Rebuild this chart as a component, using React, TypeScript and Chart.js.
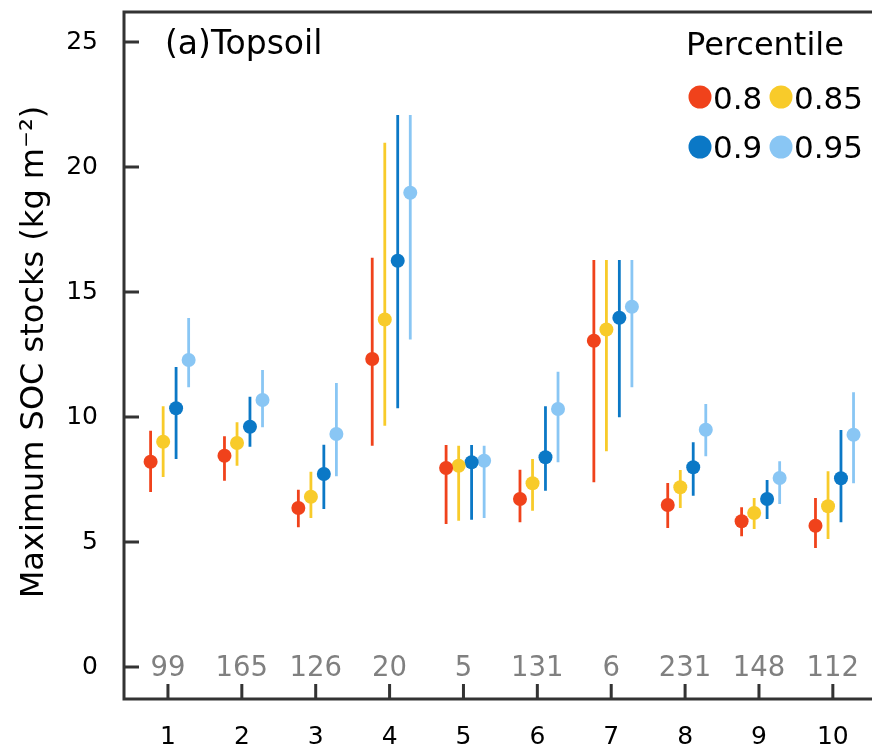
import React, { useEffect, useRef } from "react";
import { Chart, registerables } from "chart.js";

Chart.register(...registerables);

const categories = [1, 2, 3, 4, 5, 6, 7, 8, 9, 10];
const counts = [99, 165, 126, 20, 5, 131, 6, 231, 148, 112];
const seriesLabels = ["0.8", "0.85", "0.9", "0.95"];
const yTickValues = [0, 5, 10, 15, 20, 25];

const mean080 = [8.21, 8.45, 6.36, 12.32, 7.96, 6.72, 13.05, 6.48, 5.83, 5.65];
const low080 = [7.0, 7.45, 5.59, 8.85, 5.72, 5.79, 7.39, 5.56, 5.23, 4.76];
const high080 = [9.45, 9.23, 7.09, 16.37, 8.88, 7.89, 16.28, 7.36, 6.39, 6.76];

const mean085 = [9.01, 8.96, 6.81, 13.9, 8.05, 7.35, 13.5, 7.19, 6.16, 6.43];
const low085 = [7.6, 8.05, 5.96, 9.65, 5.85, 6.25, 8.63, 6.36, 5.52, 5.12];
const high085 = [10.43, 9.79, 7.81, 20.97, 8.85, 8.32, 16.28, 7.88, 6.76, 7.83];

const mean090 = [10.35, 9.61, 7.72, 16.25, 8.19, 8.39, 13.97, 7.99, 6.72, 7.55];
const low090 = [8.32, 8.81, 6.32, 10.35, 5.89, 7.05, 9.99, 6.85, 5.92, 5.79];
const high090 = [12.0, 10.81, 8.89, 22.08, 8.88, 10.43, 16.28, 8.99, 7.48, 9.48];

const mean095 = [12.28, 10.68, 9.32, 18.97, 8.25, 10.32, 14.41, 9.49, 7.56, 9.29];
const low095 = [11.19, 9.59, 7.63, 13.1, 5.96, 8.19, 11.19, 8.43, 6.52, 7.35];
const high095 = [13.96, 11.88, 11.36, 22.08, 8.85, 11.81, 16.28, 10.52, 8.23, 10.99];

const means = [mean080, mean085, mean090, mean095];
const lows = [low080, low085, low090, low095];
const highs = [high080, high085, high090, high095];

const colors = ["#F0421B", "#F8CB2A", "#0B78C6", "#89C6F4"];
const dodge = [-0.235, -0.065, 0.11, 0.28];

const FONT = "'DejaVu Sans', sans-serif";
const AXIS_COLOR = "#333333";

const errorBarPlugin = {
  id: "errorBars",
  beforeDatasetsDraw(chart: any) {
    const ctx = chart.ctx;
    const xs = chart.scales.x;
    const ys = chart.scales.y;
    ctx.save();
    ctx.lineCap = "butt";
    chart.data.datasets.forEach((ds: any, i: number) => {
      ctx.strokeStyle = colors[i];
      ctx.lineWidth = 2.8;
      categories.forEach((c, j) => {
        const x = xs.getPixelForValue(c + dodge[i]);
        ctx.beginPath();
        ctx.moveTo(x, ys.getPixelForValue(lows[i][j]));
        ctx.lineTo(x, ys.getPixelForValue(highs[i][j]));
        ctx.stroke();
      });
    });
    ctx.restore();
  },
};

const decorPlugin = {
  id: "decor",
  afterDraw(chart: any) {
    const ctx = chart.ctx;
    const xs = chart.scales.x;
    const ys = chart.scales.y;
    const { left, right, top, bottom } = chart.chartArea;
    ctx.save();
    // frame
    ctx.strokeStyle = AXIS_COLOR;
    ctx.lineWidth = 3;
    ctx.beginPath();
    ctx.moveTo(right + 2, top);
    ctx.lineTo(left, top);
    ctx.lineTo(left, bottom);
    ctx.lineTo(right + 2, bottom);
    ctx.stroke();
    // inward ticks
    ctx.beginPath();
    yTickValues.forEach((v) => {
      const y = ys.getPixelForValue(v);
      ctx.moveTo(left, y);
      ctx.lineTo(left + 15, y);
    });
    categories.forEach((c) => {
      const x = xs.getPixelForValue(c);
      ctx.moveTo(x, bottom);
      ctx.lineTo(x, bottom - 15);
    });
    ctx.stroke();

    // counts
    ctx.fillStyle = "#808080";
    ctx.font = `27.5px ${FONT}`;
    ctx.textAlign = "center";
    ctx.textBaseline = "alphabetic";
    categories.forEach((c, j) => {
      ctx.fillText(String(counts[j]), xs.getPixelForValue(c), 676);
    });

    // panel label
    ctx.fillStyle = "#000";
    ctx.textAlign = "left";
    ctx.font = `33px ${FONT}`;
    ctx.fillText("(a)Topsoil", 165, 54);

    // legend
    ctx.font = `32px ${FONT}`;
    ctx.fillText("Percentile", 686, 55);
    const legendPos = [
      { cx: 700, cy: 97, tx: 713, ty: 109 },
      { cx: 781, cy: 97, tx: 794, ty: 109 },
      { cx: 700, cy: 147, tx: 713, ty: 158 },
      { cx: 781, cy: 147, tx: 794, ty: 158 },
    ];
    ctx.font = `31px ${FONT}`;
    seriesLabels.forEach((lab, i) => {
      const p = legendPos[i];
      ctx.fillStyle = colors[i];
      ctx.beginPath();
      ctx.arc(p.cx, p.cy, 11.5, 0, Math.PI * 2);
      ctx.fill();
      ctx.fillStyle = "#000";
      ctx.fillText(lab, p.tx, p.ty);
    });

    // y title
    ctx.save();
    ctx.translate(43, 352);
    ctx.rotate(-Math.PI / 2);
    ctx.textAlign = "center";
    ctx.textBaseline = "alphabetic";
    ctx.font = `32px ${FONT}`;
    ctx.fillText("Maximum SOC stocks (kg m\u207B\u00B2)", 0, 0);
    ctx.restore();

    ctx.restore();
  },
};

function zeroPad(s: any) {
  s.paddingTop = 0;
  s.paddingBottom = 0;
  s.paddingLeft = 0;
  s.paddingRight = 0;
}

export default function App() {
  const ref = useRef<HTMLCanvasElement>(null);

  useEffect(() => {
    document.body.style.margin = "0";
    const canvas = ref.current;
    if (!canvas) return;
    const datasets = means.map((m, i) => ({
      label: seriesLabels[i],
      data: categories.map((c, j) => ({ x: c + dodge[i], y: m[j] })),
      backgroundColor: colors[i],
      borderColor: colors[i],
      borderWidth: 0,
      pointRadius: 7,
      pointHoverRadius: 7,
      showLine: false,
      clip: false,
    }));
    const chart = new Chart(canvas, {
      type: "scatter",
      data: { datasets },
      plugins: [errorBarPlugin, decorPlugin],
      options: {
        animation: false,
        responsive: false,
        maintainAspectRatio: false,
        events: [],
        layout: { autoPadding: false, padding: { top: 12, right: 0, left: 0, bottom: 0 } },
        plugins: {
          legend: { display: false },
          tooltip: { enabled: false },
          title: { display: false },
        },
        scales: {
          x: {
            type: "linear",
            min: 0.405,
            max: 10.53,
            grid: { display: false, drawTicks: false },
            border: { display: false },
            afterFit: (s: any) => {
              s.height = 49;
              zeroPad(s);
            },
            afterBuildTicks: (s: any) => {
              s.ticks = categories.map((c) => ({ value: c }));
            },
            ticks: {
              stepSize: 1,
              includeBounds: false,
              autoSkip: false,
              maxRotation: 0,
              padding: 23,
              color: "#000",
              font: { family: FONT, size: 25 },
            },
          },
          y: {
            type: "linear",
            min: -1.28,
            max: 26.2,
            grid: { display: false, drawTicks: false },
            border: { display: false },
            afterFit: (s: any) => {
              s.width = 124;
              zeroPad(s);
            },
            afterBuildTicks: (s: any) => {
              s.ticks = yTickValues.map((v) => ({ value: v }));
            },
            ticks: {
              stepSize: 5,
              includeBounds: false,
              padding: 26,
              color: "#000",
              font: { family: FONT, size: 25 },
            },
          },
        },
      },
    });
    return () => chart.destroy();
  }, []);

  return (
    <div style={{ position: "absolute", left: 0, top: 0, width: 872, height: 748 }}>
      <canvas ref={ref} width={872} height={748} style={{ display: "block" }} />
    </div>
  );
}
